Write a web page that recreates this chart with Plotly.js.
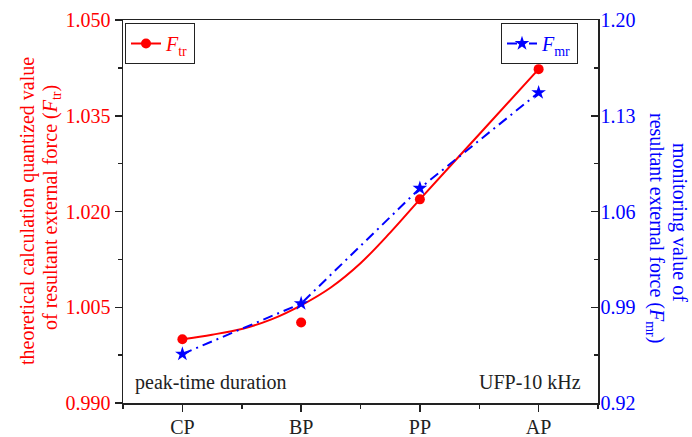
<!DOCTYPE html>
<html>
<head>
<meta charset="utf-8">
<script src="https://cdn.plot.ly/plotly-3.0.1.min.js"></script>
<style>html,body{margin:0;padding:0;background:#fff;}#chart{width:692px;height:437px;}</style>
</head>
<body>
<div id="chart"></div>
<script>
// Data
const categories = ['CP', 'BP', 'PP', 'AP'];
const xPos = [0, 1, 2, 3];
const ftrValues = [1.0000, 1.0026, 1.0219, 1.0423];
const fmrValues = [0.9558, 0.9927, 1.0770, 1.1469];
// fitted curve of F_tr as drawn in the picture (sampled by eye)
const fitX = [0, 0.25, 0.5, 0.75, 1, 1.25, 1.5, 1.75, 2, 2.5, 3];
const fitY = [1.0000, 1.0007, 1.0016, 1.0031, 1.0053, 1.0081, 1.0119, 1.0167, 1.0219, 1.0321, 1.0423];
const leftTicks = [0.990, 1.005, 1.020, 1.035, 1.050];
const rightTicks = [0.92, 0.99, 1.06, 1.13, 1.20];

const RED = '#ff0000', BLUE = '#0000ff', AX = '#222222';
const FONT = '"Liberation Serif", "DejaVu Serif", serif';

// plot area in pixels: x 123..598, y 20..403
const px = v => (v - 123) / 475;
const py = v => (403 - v) / 383;

const traces = [
  {x: fitX, y: fitY, mode: 'lines', line: {color: RED, width: 2, shape: 'spline', smoothing: 1},
   showlegend: false, hoverinfo: 'skip'},
  {x: xPos, y: ftrValues, mode: 'markers', marker: {color: RED, size: 10, symbol: 'circle'},
   showlegend: false},
  {x: [null], y: [null], mode: 'lines+markers', name: '<i>F</i><sub>tr</sub>',
   line: {color: RED, width: 2}, marker: {color: RED, size: 10}, legend: 'legend'},
  {x: xPos, y: fmrValues, yaxis: 'y2', mode: 'lines+markers', name: '<i>F</i><sub>mr</sub>',
   line: {color: BLUE, width: 2, dash: '10px,5px,2px,5px'}, marker: {color: BLUE, size: 11, symbol: 'star'},
   legend: 'legend2'}
];

function ann(text, x, y, angle, color, anchor) {
  return {xref: 'paper', yref: 'paper', x: x, y: y, xanchor: anchor || 'center', yanchor: 'middle',
    textangle: angle, showarrow: false, font: {family: FONT, size: 20, color: color}, text: text};
}

const layout = {
  width: 692, height: 437,
  margin: {l: 123, r: 94, t: 20, b: 34},
  paper_bgcolor: '#fff', plot_bgcolor: '#fff',
  font: {family: FONT, size: 20, color: AX},
  xaxis: {
    range: [-0.5, 3.5], tickmode: 'array', tickvals: xPos, ticktext: categories,
    showgrid: false, zeroline: false, showline: true, mirror: true, linecolor: AX, linewidth: 1.5,
    ticks: 'outside', ticklen: 7, tickwidth: 1.5, tickcolor: AX, ticklabelstandoff: -2,
    tickfont: {family: FONT, size: 20, color: AX},
    minor: {tickmode: 'linear', tick0: -0.5, dtick: 0.5, ticks: 'outside', ticklen: 4, tickwidth: 1.5, tickcolor: AX, showgrid: false}
  },
  yaxis: {
    range: [0.990, 1.050], tickmode: 'array', tickvals: leftTicks, tickformat: '.3f',
    showgrid: false, zeroline: false, showline: true, linecolor: AX, linewidth: 1.5,
    ticks: 'outside', ticklen: 7, tickwidth: 1.5, tickcolor: AX,
    tickfont: {family: FONT, size: 20, color: RED},
    minor: {tickmode: 'linear', tick0: 0.990, dtick: 0.0075, ticks: 'outside', ticklen: 4, tickwidth: 1.5, tickcolor: AX, showgrid: false}
  },
  yaxis2: {
    overlaying: 'y', side: 'right', range: [0.92, 1.20], tickmode: 'array', tickvals: rightTicks, tickformat: '.2f',
    showgrid: false, zeroline: false, showline: true, linecolor: AX, linewidth: 1.5,
    ticks: 'inside', ticklen: 7, tickwidth: 1.5, tickcolor: AX, ticklabelstandoff: -3,
    tickfont: {family: FONT, size: 20, color: BLUE},
    minor: {tickmode: 'linear', tick0: 0.92, dtick: 0.035, ticks: 'inside', ticklen: 4, tickwidth: 1.5, tickcolor: AX, showgrid: false}
  },
  legend: {x: px(125), y: py(23), xanchor: 'left', yanchor: 'top', bgcolor: '#fff', bordercolor: AX, borderwidth: 1,
    font: {family: FONT, size: 20, color: RED}},
  legend2: {x: px(578), y: py(23), xanchor: 'right', yanchor: 'top', bgcolor: '#fff', bordercolor: AX, borderwidth: 1,
    font: {family: FONT, size: 20, color: BLUE}},
  annotations: [
    ann('theoretical calculation quantized value', px(27), py(211), -90, RED),
    ann('of resultant external force (<i>F</i><sub>tr</sub>)', px(51), py(208), -90, RED),
    ann('monitoring value of', px(680), py(222), 90, BLUE),
    ann('resultant external force (<i>F</i><sub>mr</sub>)', px(656), py(228), 90, BLUE),
    ann('peak-time duration', px(133), py(382), 0, AX, 'left'),
    ann('UFP-10 kHz', px(583), py(382), 0, AX, 'right')
  ]
};

Plotly.newPlot('chart', traces, layout, {displayModeBar: false, staticPlot: true});
</script>
</body>
</html>
